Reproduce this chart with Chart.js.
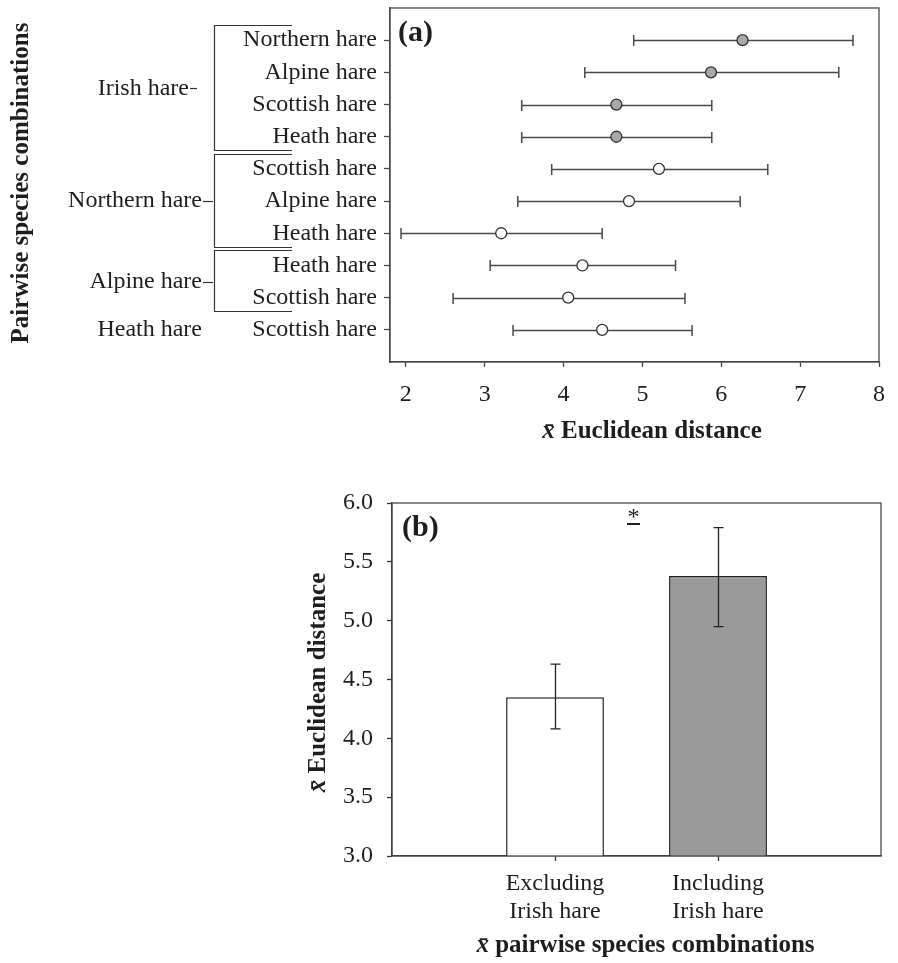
<!DOCTYPE html>
<html>
<head>
<meta charset="utf-8">
<script src="https://cdn.jsdelivr.net/npm/chart.js@4.4.1/dist/chart.umd.min.js"></script>
<style>
html,body{margin:0;padding:0;background:#ffffff;width:898px;height:963px;overflow:hidden;}
#chartA{position:absolute;left:0;top:0;}
#chartB{position:absolute;left:0;top:480px;}
</style>
</head>
<body>
<canvas id="chartA" width="898" height="480"></canvas>
<canvas id="chartB" width="898" height="483"></canvas>
<script>
// ---------- Data: panel (a) ----------
const pairLabels = ['Northern hare', 'Alpine hare', 'Scottish hare', 'Heath hare',
                    'Scottish hare', 'Alpine hare', 'Heath hare',
                    'Heath hare', 'Scottish hare',
                    'Scottish hare'];
const meanDist  = [6.27, 5.87, 4.67, 4.67, 5.21, 4.83, 3.21, 4.24, 4.06, 4.49];
const lowerDist = [4.89, 4.27, 3.47, 3.47, 3.85, 3.42, 1.94, 3.07, 2.60, 3.36];
const upperDist = [7.67, 7.49, 5.88, 5.88, 6.59, 6.24, 4.49, 5.42, 5.54, 5.63];
const withIrish = [true, true, true, true, false, false, false, false, false, false];
const groupNames = ['Irish hare', 'Northern hare', 'Alpine hare', 'Heath hare'];
const groupFirst = [1, 5, 8, 10];
const groupLast  = [4, 7, 9, 10];
const xTicksA = [2, 3, 4, 5, 6, 7, 8];

// ---------- Data: panel (b) ----------
const comboLabels = [['Excluding', 'Irish hare'], ['Including', 'Irish hare']];
const comboMeans  = [4.35, 5.38];
const comboLower  = [4.08, 4.95];
const comboUpper  = [4.63, 5.79];
const yTicksB = [3.0, 3.5, 4.0, 4.5, 5.0, 5.5, 6.0];

// ---------- Styling ----------
const SERIF = "'Liberation Serif', 'Times New Roman', serif";
const TEXT = '#1e1e1e';
const AXIS = '#4a4a4a';
Chart.defaults.font.family = SERIF;
Chart.defaults.font.size = 24;
Chart.defaults.color = TEXT;
Chart.defaults.animation = false;

// draws a title made of parts (italic x-bar + bold words), centred at cx,cy
function drawTitle(ctx, parts, cx, cy, rotate) {
  ctx.save();
  ctx.translate(cx, cy);
  if (rotate) ctx.rotate(-Math.PI / 2);
  ctx.fillStyle = TEXT;
  ctx.textBaseline = 'middle';
  ctx.textAlign = 'left';
  let total = 0;
  parts.forEach(p => { ctx.font = p.font; total += ctx.measureText(p.text).width; });
  let x = -total / 2;
  parts.forEach(p => { ctx.font = p.font; ctx.fillText(p.text, x, 0); x += ctx.measureText(p.text).width; });
  ctx.restore();
}
const BOLD25 = 'bold 25px ' + SERIF;
const XBAR = [{text: 'x\u0304', font: 'italic bold 25px ' + SERIF}];

const noEdgePadding = s => { s.paddingTop = 0; s.paddingBottom = 0; };

const framePlugin = {
  id: 'frame',
  afterDraw(chart) {
    const {ctx, chartArea: ca} = chart;
    ctx.save();
    ctx.strokeStyle = AXIS;
    ctx.lineWidth = 1.3;
    ctx.strokeRect(ca.left, ca.top, ca.right - ca.left, ca.bottom - ca.top);
    ctx.restore();
  }
};

const errorBarsA = {
  id: 'errorBarsA',
  beforeDatasetsDraw(chart) {
    const {ctx, scales: {x, y}} = chart;
    ctx.save();
    ctx.strokeStyle = '#4a4a4a';
    ctx.lineWidth = 1.5;
    meanDist.forEach((m, i) => {
      const py = Math.round(y.getPixelForValue(i + 1)) + 0.5;
      const x1 = x.getPixelForValue(lowerDist[i]);
      const x2 = x.getPixelForValue(upperDist[i]);
      ctx.beginPath();
      ctx.moveTo(x1, py); ctx.lineTo(x2, py);
      ctx.moveTo(x1, py - 5.5); ctx.lineTo(x1, py + 5.5);
      ctx.moveTo(x2, py - 5.5); ctx.lineTo(x2, py + 5.5);
      ctx.stroke();
    });
    ctx.restore();
  }
};

const groupsA = {
  id: 'groupsA',
  afterDraw(chart) {
    const {ctx, chartArea: ca, scales: {y}} = chart;
    ctx.save();
    ctx.strokeStyle = '#333';
    ctx.lineWidth = 1.2;
    ctx.fillStyle = TEXT;
    ctx.font = '24px ' + SERIF;
    ctx.textAlign = 'right';
    ctx.textBaseline = 'middle';
    const bx = ca.left - 175.5;
    const bEnd = ca.left - 98;
    groupNames.forEach((name, g) => {
      const f = groupFirst[g], l = groupLast[g];
      const ym = y.getPixelForValue((f + l) / 2);
      if (l > f) {
        const yt = Math.round(y.getPixelForValue(f - 0.47)) + 0.5;
        const yb = Math.round(y.getPixelForValue(l + 0.42)) + 0.5;
        ctx.beginPath();
        ctx.moveTo(bEnd, yt); ctx.lineTo(bx, yt); ctx.lineTo(bx, yb); ctx.lineTo(bEnd, yb);
        ctx.stroke();
        const textRight = g === 0 ? ca.left - 201 : ca.left - 188;
        const d1 = g === 0 ? ca.left - 200 : ca.left - 187;
        const d2 = g === 0 ? ca.left - 193 : ca.left - 177;
        ctx.fillText(name, textRight, ym);
        ctx.beginPath();
        ctx.moveTo(d1, Math.round(ym) + 0.5); ctx.lineTo(d2, Math.round(ym) + 0.5);
        ctx.stroke();
      } else {
        ctx.fillText(name, ca.left - 188, ym);
      }
    });
    ctx.font = 'bold 30px ' + SERIF;
    ctx.textAlign = 'left';
    ctx.textBaseline = 'alphabetic';
    ctx.fillText('(a)', ca.left + 8, ca.top + 33);
    ctx.restore();
    // axis titles
    drawTitle(ctx, [...XBAR, {text: ' Euclidean distance', font: BOLD25}],
              ca.left + 262, ca.bottom + 70, false);
    drawTitle(ctx, [{text: 'Pairwise species combinations', font: BOLD25}],
              22, (ca.top + ca.bottom) / 2 - 2, true);
  }
};

new Chart(document.getElementById('chartA'), {
  type: 'scatter',
  data: {
    datasets: [{
      data: meanDist.map((m, i) => ({x: m, y: i + 1})),
      pointRadius: 5.5,
      pointHoverRadius: 5.5,
      pointBackgroundColor: withIrish.map(b => b ? '#a8a8a8' : '#ffffff'),
      pointBorderColor: '#333333',
      pointBorderWidth: 1.3,
      showLine: false
    }]
  },
  options: {
    responsive: false,
    animation: false,
    layout: {padding: {top: 8, right: 18, left: 0, bottom: 0}},
    plugins: {legend: {display: false}, tooltip: {enabled: false}},
    scales: {
      x: {
        type: 'linear', min: 1.8, max: 8,
        afterBuildTicks: s => { s.ticks = xTicksA.map(v => ({value: v})); },
        afterFit: s => { s.height = 118; },
        grid: {drawOnChartArea: false, drawTicks: true, tickLength: 5, tickColor: AXIS, tickWidth: 1.3},
        border: {display: true, color: AXIS, width: 1.3},
        ticks: {padding: 13, color: TEXT, maxRotation: 0, autoSkip: false}
      },
      y: {
        type: 'linear', min: 0, max: 11, reverse: true,
        afterBuildTicks: s => { s.ticks = pairLabels.map((_, i) => ({value: i + 1})); },
        afterFit: s => { s.width = 390; noEdgePadding(s); },
        grid: {drawOnChartArea: false, drawTicks: true, tickLength: 6, tickColor: AXIS, tickWidth: 1.3},
        border: {display: true, color: AXIS, width: 1.3},
        ticks: {padding: 7, color: TEXT, autoSkip: false, callback: v => pairLabels[v - 1] || ''}
      }
    }
  },
  plugins: [errorBarsA, framePlugin, groupsA]
});

// ---------- Panel (b) ----------
const errorBarsB = {
  id: 'errorBarsB',
  afterDatasetsDraw(chart) {
    const {ctx, scales: {x, y}, chartArea: ca} = chart;
    ctx.save();
    ctx.strokeStyle = '#222';
    ctx.lineWidth = 1.3;
    comboMeans.forEach((m, i) => {
      const px = Math.round(x.getPixelForValue(i + 1)) + 0.5;
      const y1 = y.getPixelForValue(comboUpper[i]);
      const y2 = y.getPixelForValue(comboLower[i]);
      ctx.beginPath();
      ctx.moveTo(px, y1); ctx.lineTo(px, y2);
      ctx.moveTo(px - 5, y1); ctx.lineTo(px + 5, y1);
      ctx.moveTo(px - 5, y2); ctx.lineTo(px + 5, y2);
      ctx.stroke();
    });
    // panel letter and significance mark
    ctx.fillStyle = TEXT;
    ctx.font = 'bold 30px ' + SERIF;
    ctx.textAlign = 'left';
    ctx.textBaseline = 'alphabetic';
    ctx.fillText('(b)', ca.left + 10, ca.top + 33);
    const cx = (ca.left + ca.right) / 2 - 3;
    ctx.font = '24px ' + SERIF;
    ctx.textAlign = 'center';
    ctx.fillText('*', cx, ca.top + 21);
    ctx.fillRect(cx - 6.5, ca.top + 20, 13, 2);
    ctx.restore();
    drawTitle(ctx, [...XBAR, {text: ' pairwise species combinations', font: BOLD25}],
              (ca.left + ca.right) / 2 + 9, ca.bottom + 90, false);
    drawTitle(ctx, [...XBAR, {text: ' Euclidean distance', font: BOLD25}],
              319, (ca.top + ca.bottom) / 2 + 3, true);
  }
};

new Chart(document.getElementById('chartB'), {
  type: 'bar',
  data: {
    labels: ['', ...comboLabels, ''],
    datasets: [{
      data: [null, ...comboMeans, null],
      backgroundColor: ['#ffffff', '#ffffff', '#9a9a9a', '#ffffff'],
      borderColor: '#222222',
      borderWidth: 1.5,
      borderSkipped: false,
      barPercentage: 0.6,
      categoryPercentage: 1.0
    }]
  },
  options: {
    responsive: false,
    animation: false,
    layout: {padding: {top: 23, right: 17, left: 0, bottom: 0}},
    plugins: {legend: {display: false}, tooltip: {enabled: false}},
    scales: {
      x: {
        type: 'category', offset: false,
        afterFit: s => { s.height = 107; },
        grid: {offset: false, drawOnChartArea: false, drawTicks: true, tickLength: 5, tickWidth: 1.3,
               tickColor: c => (c.index === 1 || c.index === 2) ? '#333' : 'rgba(0,0,0,0)'},
        border: {display: true, color: '#333', width: 1.3},
        ticks: {padding: 8, color: TEXT, maxRotation: 0, autoSkip: false}
      },
      y: {
        type: 'linear', min: 3, max: 6,
        afterBuildTicks: s => { s.ticks = yTicksB.map(v => ({value: v})); },
        afterFit: s => { s.width = 392; noEdgePadding(s); },
        grid: {drawOnChartArea: false, drawTicks: true, tickLength: 5, tickColor: '#333', tickWidth: 1.3},
        border: {display: true, color: '#333', width: 1.3},
        ticks: {padding: 14, color: TEXT, callback: v => Number(v).toFixed(1)}
      }
    }
  },
  plugins: [framePlugin, errorBarsB]
});
</script>
</body>
</html>
